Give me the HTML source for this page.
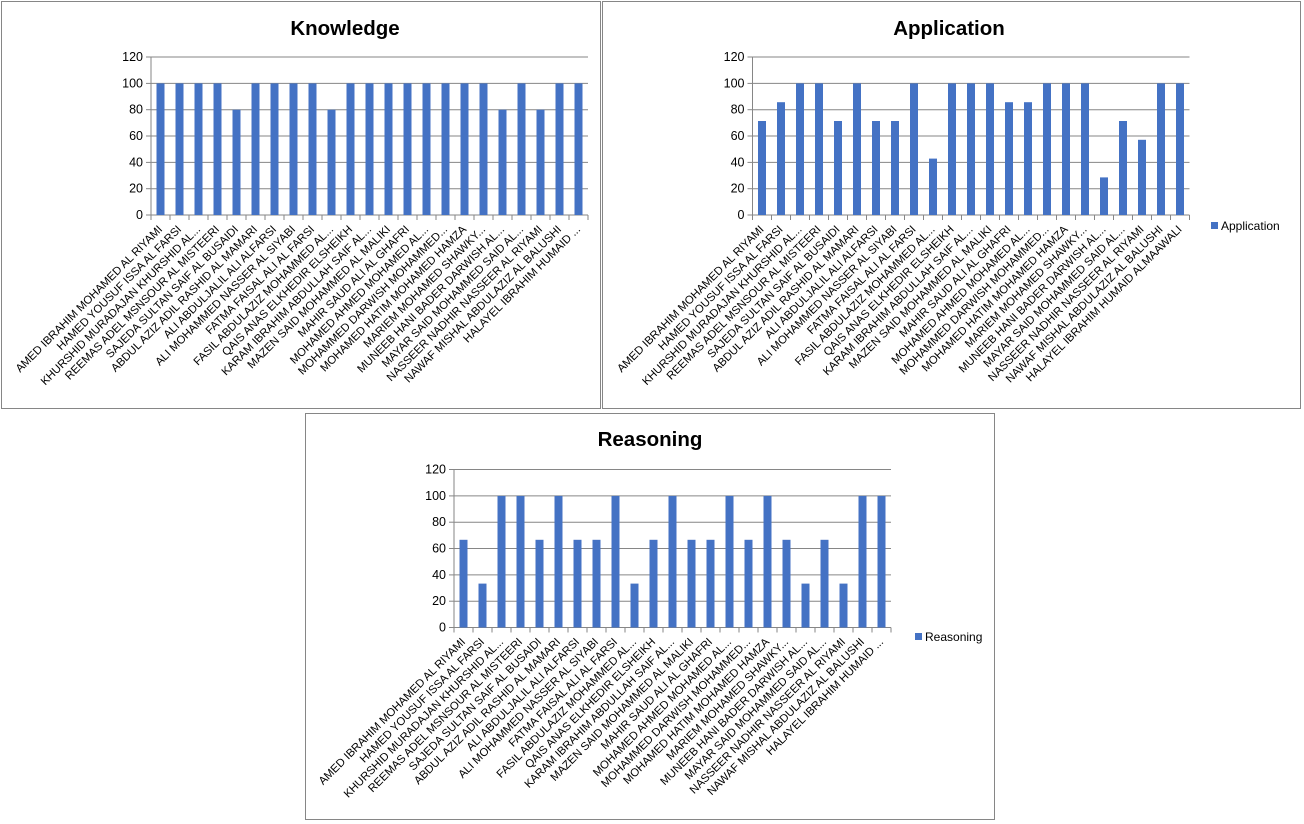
<!DOCTYPE html>
<html><head><meta charset="utf-8"><style>
html,body{margin:0;padding:0;background:#fff;}
svg{display:block;font-family:"Liberation Sans",sans-serif;}
.t{font-size:20.5px;font-weight:bold;text-anchor:middle;}
.yl{font-size:12.5px;text-anchor:end;fill:#000;}
.xl{font-size:11.3px;text-anchor:end;fill:#000;}
.g{stroke:#868686;stroke-width:1;}
.b{fill:#4472c4;}
.lg{font-size:12px;}
</style></head><body>
<svg width="1304" height="824" viewBox="0 0 1304 824">
<defs>
<g id="axes">
<line class="g" x1="0" y1="-158" x2="437" y2="-158"/>
<line class="g" x1="0" y1="-131.6" x2="437" y2="-131.6"/>
<line class="g" x1="0" y1="-105.3" x2="437" y2="-105.3"/>
<line class="g" x1="0" y1="-79" x2="437" y2="-79"/>
<line class="g" x1="0" y1="-52.6" x2="437" y2="-52.6"/>
<line class="g" x1="0" y1="-26.3" x2="437" y2="-26.3"/>
<line class="g" x1="-5" y1="0" x2="437" y2="0"/>
<line class="g" x1="0" y1="-158" x2="0" y2="5"/>
<line class="g" x1="-5" y1="-158" x2="0" y2="-158"/><line class="g" x1="-5" y1="-131.6" x2="0" y2="-131.6"/><line class="g" x1="-5" y1="-105.3" x2="0" y2="-105.3"/><line class="g" x1="-5" y1="-79" x2="0" y2="-79"/><line class="g" x1="-5" y1="-52.6" x2="0" y2="-52.6"/><line class="g" x1="-5" y1="-26.3" x2="0" y2="-26.3"/>
<path class="g" d="M19 0v5M38 0v5M57 0v5M76 0v5M95 0v5M114 0v5M133 0v5M152 0v5M171 0v5M190 0v5M209 0v5M228 0v5M247 0v5M266 0v5M285 0v5M304 0v5M323 0v5M342 0v5M361 0v5M380 0v5M399 0v5M418 0v5M437 0v5"/>
</g>
<g id="lab">
<text class="xl" transform="translate(12,15) rotate(-45)">AMED IBRAHIM MOHAMED  AL RIYAMI</text>
<text class="xl" transform="translate(31,15) rotate(-45)">HAMED YOUSUF  ISSA AL FARSI</text>
<text class="xl" transform="translate(50,15) rotate(-45)">KHURSHID MURADAJAN KHURSHID AL...</text>
<text class="xl" transform="translate(69,15) rotate(-45)">REEMAS ADEL MSNSOUR AL MISTEERI</text>
<text class="xl" transform="translate(88,15) rotate(-45)">SAJEDA SULTAN SAIF AL BUSAIDI</text>
<text class="xl" transform="translate(107,15) rotate(-45)">ABDUL AZIZ ADIL RASHID AL MAMARI</text>
<text class="xl" transform="translate(126,15) rotate(-45)">ALI ABDULJALIL ALI ALFARSI</text>
<text class="xl" transform="translate(145,15) rotate(-45)">ALI MOHAMMED NASSER AL SIYABI</text>
<text class="xl" transform="translate(164,15) rotate(-45)">FATMA FAISAL ALI AL FARSI</text>
<text class="xl" transform="translate(183,15) rotate(-45)">FASIL ABDULAZIZ MOHAMMED AL...</text>
<text class="xl" transform="translate(202,15) rotate(-45)">QAIS ANAS ELKHEDIR ELSHEIKH</text>
<text class="xl" transform="translate(221,15) rotate(-45)">KARAM IBRAHIM ABDULLAH SAIF AL...</text>
<text class="xl" transform="translate(240,15) rotate(-45)">MAZEN SAID MOHAMMED AL MALIKI</text>
<text class="xl" transform="translate(259,15) rotate(-45)">MAHIR SAUD ALI AL GHAFRI</text>
<text class="xl" transform="translate(278,15) rotate(-45)">MOHAMED AHMED MOHAMED AL...</text>
<text class="xl" transform="translate(297,15) rotate(-45)">MOHAMMED DARWISH MOHAMMED...</text>
<text class="xl" transform="translate(316,15) rotate(-45)">MOHAMED HATIM MOHAMED HAMZA</text>
<text class="xl" transform="translate(335,15) rotate(-45)">MARIEM MOHAMED SHAWKY...</text>
<text class="xl" transform="translate(354,15) rotate(-45)">MUNEEB HANI BADER DARWISH AL...</text>
<text class="xl" transform="translate(373,15) rotate(-45)">MAYAR SAID MOHAMMED SAID AL...</text>
<text class="xl" transform="translate(392,15) rotate(-45)">NASSEER NADHIR NASSEER AL RIYAMI</text>
<text class="xl" transform="translate(411,15) rotate(-45)">NAWAF MISHAL ABDULAZIZ AL BALUSHI</text>
</g>
<g id="yl">
<text class="yl" x="-8" y="4">0</text><text class="yl" x="-8" y="-22.3">20</text><text class="yl" x="-8" y="-48.6">40</text><text class="yl" x="-8" y="-75">60</text><text class="yl" x="-8" y="-101.3">80</text><text class="yl" x="-8" y="-127.6">100</text><text class="yl" x="-8" y="-154">120</text>
</g>
</defs>

<rect x="1.5" y="1.5" width="599" height="407" fill="none" stroke="#868686"/>
<rect x="602.5" y="1.5" width="698" height="407" fill="none" stroke="#868686"/>
<rect x="305.5" y="413.5" width="689" height="406" fill="none" stroke="#868686"/>

<text class="t" x="345" y="35">Knowledge</text>
<text class="t" x="949" y="35">Application</text>
<text class="t" x="650" y="446">Reasoning</text>

<g transform="translate(151,215)">
<use href="#axes"/><use href="#yl"/><use href="#lab"/>
<text class="xl" transform="translate(430,15) rotate(-45)">HALAYEL IBRAHIM HUMAID ...</text>
<rect class="b" x="5.5" y="-131.6" width="8" height="131.6"/>
<rect class="b" x="24.5" y="-131.6" width="8" height="131.6"/>
<rect class="b" x="43.5" y="-131.6" width="8" height="131.6"/>
<rect class="b" x="62.5" y="-131.6" width="8" height="131.6"/>
<rect class="b" x="81.5" y="-105.3" width="8" height="105.3"/>
<rect class="b" x="100.5" y="-131.6" width="8" height="131.6"/>
<rect class="b" x="119.5" y="-131.6" width="8" height="131.6"/>
<rect class="b" x="138.5" y="-131.6" width="8" height="131.6"/>
<rect class="b" x="157.5" y="-131.6" width="8" height="131.6"/>
<rect class="b" x="176.5" y="-105.3" width="8" height="105.3"/>
<rect class="b" x="195.5" y="-131.6" width="8" height="131.6"/>
<rect class="b" x="214.5" y="-131.6" width="8" height="131.6"/>
<rect class="b" x="233.5" y="-131.6" width="8" height="131.6"/>
<rect class="b" x="252.5" y="-131.6" width="8" height="131.6"/>
<rect class="b" x="271.5" y="-131.6" width="8" height="131.6"/>
<rect class="b" x="290.5" y="-131.6" width="8" height="131.6"/>
<rect class="b" x="309.5" y="-131.6" width="8" height="131.6"/>
<rect class="b" x="328.5" y="-131.6" width="8" height="131.6"/>
<rect class="b" x="347.5" y="-105.3" width="8" height="105.3"/>
<rect class="b" x="366.5" y="-131.6" width="8" height="131.6"/>
<rect class="b" x="385.5" y="-105.3" width="8" height="105.3"/>
<rect class="b" x="404.5" y="-131.6" width="8" height="131.6"/>
<rect class="b" x="423.5" y="-131.6" width="8" height="131.6"/>
</g>

<g transform="translate(752.5,215)">
<use href="#axes"/><use href="#yl"/><use href="#lab"/>
<text class="xl" transform="translate(430,15) rotate(-45)">HALAYEL IBRAHIM HUMAID ALMAAWALI</text>
<rect class="b" x="5.5" y="-94" width="8" height="94"/>
<rect class="b" x="24.5" y="-112.8" width="8" height="112.8"/>
<rect class="b" x="43.5" y="-131.6" width="8" height="131.6"/>
<rect class="b" x="62.5" y="-131.6" width="8" height="131.6"/>
<rect class="b" x="81.5" y="-94" width="8" height="94"/>
<rect class="b" x="100.5" y="-131.6" width="8" height="131.6"/>
<rect class="b" x="119.5" y="-94" width="8" height="94"/>
<rect class="b" x="138.5" y="-94" width="8" height="94"/>
<rect class="b" x="157.5" y="-131.6" width="8" height="131.6"/>
<rect class="b" x="176.5" y="-56.4" width="8" height="56.4"/>
<rect class="b" x="195.5" y="-131.6" width="8" height="131.6"/>
<rect class="b" x="214.5" y="-131.6" width="8" height="131.6"/>
<rect class="b" x="233.5" y="-131.6" width="8" height="131.6"/>
<rect class="b" x="252.5" y="-112.8" width="8" height="112.8"/>
<rect class="b" x="271.5" y="-112.8" width="8" height="112.8"/>
<rect class="b" x="290.5" y="-131.6" width="8" height="131.6"/>
<rect class="b" x="309.5" y="-131.6" width="8" height="131.6"/>
<rect class="b" x="328.5" y="-131.6" width="8" height="131.6"/>
<rect class="b" x="347.5" y="-37.6" width="8" height="37.6"/>
<rect class="b" x="366.5" y="-94" width="8" height="94"/>
<rect class="b" x="385.5" y="-75.2" width="8" height="75.2"/>
<rect class="b" x="404.5" y="-131.6" width="8" height="131.6"/>
<rect class="b" x="423.5" y="-131.6" width="8" height="131.6"/>
</g>
<rect class="b" x="1211" y="222" width="7" height="7"/>
<text class="lg" x="1221" y="230">Application</text>

<g transform="translate(454,627.5)">
<use href="#axes"/><use href="#yl"/><use href="#lab"/>
<text class="xl" transform="translate(430,15) rotate(-45)">HALAYEL IBRAHIM HUMAID ...</text>
<rect class="b" x="5.5" y="-87.7" width="8" height="87.7"/>
<rect class="b" x="24.5" y="-43.9" width="8" height="43.9"/>
<rect class="b" x="43.5" y="-131.6" width="8" height="131.6"/>
<rect class="b" x="62.5" y="-131.6" width="8" height="131.6"/>
<rect class="b" x="81.5" y="-87.7" width="8" height="87.7"/>
<rect class="b" x="100.5" y="-131.6" width="8" height="131.6"/>
<rect class="b" x="119.5" y="-87.7" width="8" height="87.7"/>
<rect class="b" x="138.5" y="-87.7" width="8" height="87.7"/>
<rect class="b" x="157.5" y="-131.6" width="8" height="131.6"/>
<rect class="b" x="176.5" y="-43.9" width="8" height="43.9"/>
<rect class="b" x="195.5" y="-87.7" width="8" height="87.7"/>
<rect class="b" x="214.5" y="-131.6" width="8" height="131.6"/>
<rect class="b" x="233.5" y="-87.7" width="8" height="87.7"/>
<rect class="b" x="252.5" y="-87.7" width="8" height="87.7"/>
<rect class="b" x="271.5" y="-131.6" width="8" height="131.6"/>
<rect class="b" x="290.5" y="-87.7" width="8" height="87.7"/>
<rect class="b" x="309.5" y="-131.6" width="8" height="131.6"/>
<rect class="b" x="328.5" y="-87.7" width="8" height="87.7"/>
<rect class="b" x="347.5" y="-43.9" width="8" height="43.9"/>
<rect class="b" x="366.5" y="-87.7" width="8" height="87.7"/>
<rect class="b" x="385.5" y="-43.9" width="8" height="43.9"/>
<rect class="b" x="404.5" y="-131.6" width="8" height="131.6"/>
<rect class="b" x="423.5" y="-131.6" width="8" height="131.6"/>
</g>
<rect class="b" x="915" y="633" width="7" height="7"/>
<text class="lg" x="925" y="641">Reasoning</text>
</svg>
</body></html>
